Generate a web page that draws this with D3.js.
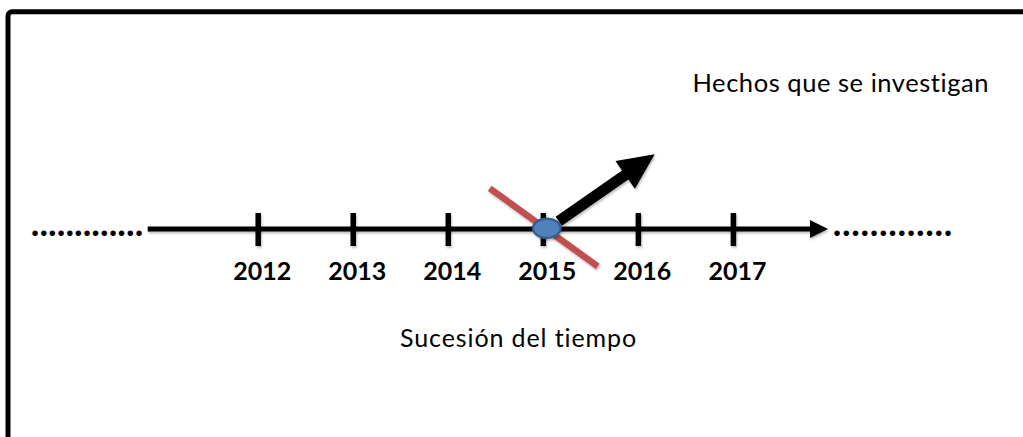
<!DOCTYPE html>
<html>
<head>
<meta charset="utf-8">
<script src="https://cdn.jsdelivr.net/npm/d3@7"></script>
<style>
  html, body { margin: 0; padding: 0; background: #fff; overflow: hidden; }
  svg { display: block; }
</style>
</head>
<body>
<svg id="chart" width="1023" height="437"></svg>
<script>
// ---- data ----
const years = [2012, 2013, 2014, 2015, 2016, 2017];
const tickLabels = ["2012", "2013", "2014", "2015", "2016", "2017"];
const eventYear = [2015];
const leftDots = ["............."];
const rightDots = ["............."];
const topLabel = ["Hechos que se investigan"];
const bottomLabel = ["Sucesión del tiempo"];

const W = 1023, H = 437;
const svg = d3.select("#chart");

const defs = svg.append("defs");
const sh = defs.append("filter").attr("id", "shadow")
  .attr("filterUnits", "userSpaceOnUse")
  .attr("x", -W).attr("y", -H).attr("width", 3 * W).attr("height", 3 * H);
sh.append("feDropShadow").attr("dx", 1).attr("dy", 2).attr("stdDeviation", 1.2)
  .attr("flood-color", "#000").attr("flood-opacity", 0.25);

defs.append("marker").attr("id", "axisHead")
  .attr("viewBox", "0 0 10 10").attr("refX", 0).attr("refY", 5)
  .attr("markerUnits", "userSpaceOnUse").attr("markerWidth", 18).attr("markerHeight", 18)
  .attr("orient", "auto")
  .append("path").attr("d", "M0,0 L10,5 L0,10 Z").attr("fill", "#000");

// frame
svg.append("rect")
  .attr("x", 8).attr("y", 11.8).attr("width", 1200).attr("height", 600)
  .attr("rx", 4).attr("fill", "none").attr("stroke", "#000").attr("stroke-width", 5);

// scale
const x = d3.scaleLinear().domain([2012, 2017]).range([258.2, 733.4]);
const axisY = 229;

// axis line
svg.append("line")
  .attr("x1", 147.7).attr("x2", 810).attr("y1", axisY).attr("y2", axisY)
  .attr("stroke", "#000").attr("stroke-width", 5)
  .attr("marker-end", "url(#axisHead)")
  .attr("filter", "url(#shadow)");

// ticks
svg.append("g").selectAll("line").data(years).join("line")
  .attr("x1", d => x(d)).attr("x2", d => x(d))
  .attr("y1", axisY - 16).attr("y2", axisY + 17)
  .attr("stroke", "#000").attr("stroke-width", 5.5)
  .attr("filter", "url(#shadow)");

// tick labels
svg.append("g").selectAll("text").data(years).join("text")
  .attr("x", d => x(d) + 4).attr("y", 279.5)
  .attr("text-anchor", "middle")
  .attr("font-family", "Lato, 'Open Sans', sans-serif")
  .attr("font-weight", "bold").attr("font-size", 25)
  .attr("fill", "#000")
  .text((d, i) => tickLabels[i]);

// dots
svg.append("text").data(leftDots)
  .attr("x", 31).attr("y", 236)
  .attr("font-family", "Lato, sans-serif").attr("font-weight", "900").attr("font-size", 34)
  .attr("textLength", 112).attr("lengthAdjust", "spacing")
  .text(d => d);
svg.append("text").data(rightDots)
  .attr("x", 833).attr("y", 236)
  .attr("font-family", "Lato, sans-serif").attr("font-weight", "900").attr("font-size", 34)
  .attr("textLength", 119).attr("lengthAdjust", "spacing")
  .text(d => d);

// event marker
const ev = svg.append("g").selectAll("g").data(eventYear).join("g")
  .attr("transform", d => `translate(${x(d) + 3.4},${axisY - 0.7})`);

// red crossing line
ev.append("line")
  .attr("x1", -57).attr("y1", -40).attr("x2", 51).attr("y2", 38)
  .attr("stroke", "#C0504D").attr("stroke-width", 6.5)
  .attr("filter", "url(#shadow)");

// ellipse
ev.append("ellipse")
  .attr("cx", 0).attr("cy", 0).attr("rx", 13.8).attr("ry", 9.6)
  .attr("fill", "#4F81BD").attr("stroke", "#385D8A").attr("stroke-width", 2.2)
  .attr("filter", "url(#shadow)");

// black block arrow
function blockArrow(x0, y0, x1, y1, shaftW, headLen, headW) {
  const dx = x1 - x0, dy = y1 - y0, L = Math.hypot(dx, dy);
  const ux = dx / L, uy = dy / L, px = -uy, py = ux;
  const bx = x1 - ux * headLen, by = y1 - uy * headLen;
  const p = [
    [x0 + px * shaftW / 2, y0 + py * shaftW / 2],
    [bx + px * shaftW / 2, by + py * shaftW / 2],
    [bx + px * headW / 2, by + py * headW / 2],
    [x1, y1],
    [bx - px * headW / 2, by - py * headW / 2],
    [bx - px * shaftW / 2, by - py * shaftW / 2],
    [x0 - px * shaftW / 2, y0 - py * shaftW / 2]
  ];
  return "M" + p.map(q => q.join(",")).join("L") + "Z";
}
ev.append("path")
  .attr("d", blockArrow(12, -7, 108, -74, 11, 36, 34))
  .attr("fill", "#000")
  .attr("filter", "url(#shadow)");

// texts
svg.append("text").data(topLabel)
  .attr("x", 692.5).attr("y", 91.5)
  .attr("font-family", "Lato, sans-serif").attr("font-size", 25.5)
  .attr("letter-spacing", 0.55)
  .attr("fill", "#000")
  .text(d => d);

svg.append("text").data(bottomLabel)
  .attr("x", 400).attr("y", 346.5)
  .attr("font-family", "Lato, sans-serif").attr("font-size", 25)
  .attr("letter-spacing", 0.9)
  .attr("fill", "#000")
  .text(d => d);
</script>
</body>
</html>
